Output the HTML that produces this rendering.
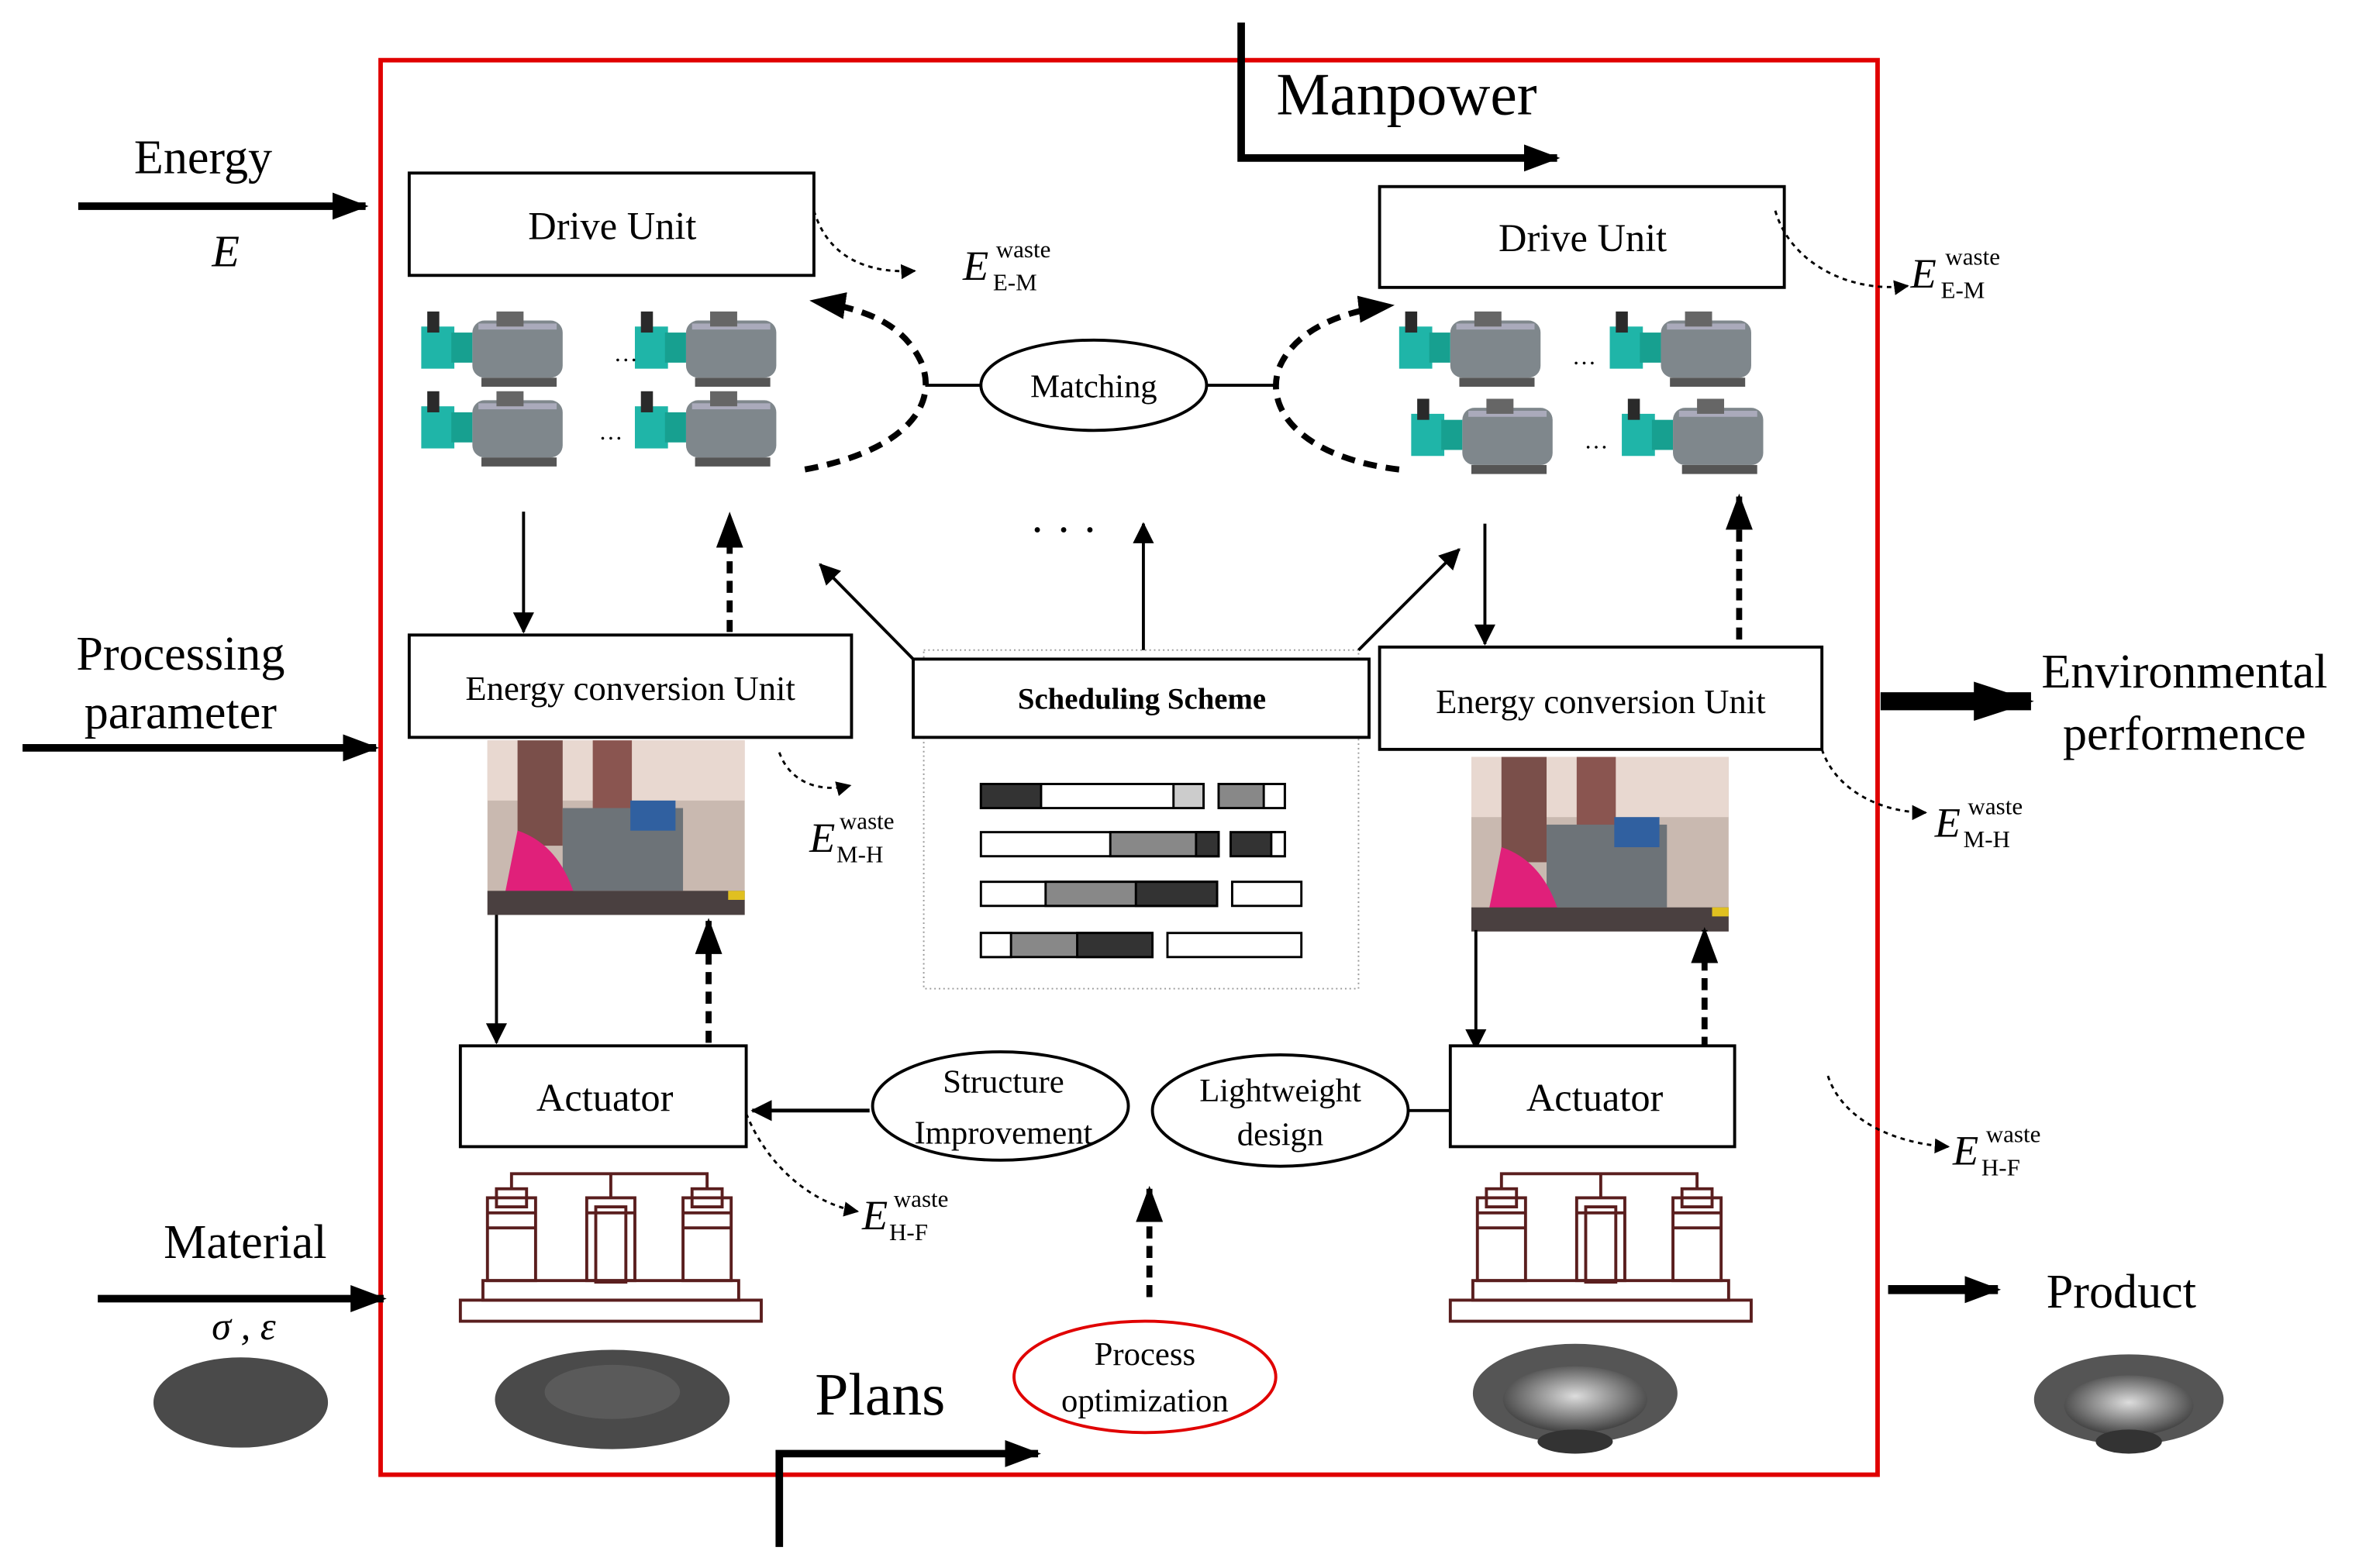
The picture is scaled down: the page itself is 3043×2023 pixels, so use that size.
<!DOCTYPE html>
<html><head><meta charset="utf-8">
<style>
html,body{margin:0;padding:0;background:#fff;}
svg{display:block;}
text{font-family:"Liberation Serif",serif;fill:#000;}
</style></head>
<body>
<svg width="3043" height="2023" viewBox="0 0 1568 1042" preserveAspectRatio="none" xmlns="http://www.w3.org/2000/svg">
<defs>
<marker id="ah" markerWidth="10" markerHeight="10" refX="9" refY="5" orient="auto" markerUnits="userSpaceOnUse"><path d="M0,0 L10,5 L0,10 z" fill="#000"/></marker>
<marker id="ahs" markerWidth="14" markerHeight="14" refX="13" refY="7" orient="auto" markerUnits="userSpaceOnUse"><path d="M0,0 L14,7 L0,14 z" fill="#000"/></marker>
<marker id="ahb" markerWidth="40" markerHeight="26" refX="38" refY="13" orient="auto" markerUnits="userSpaceOnUse"><path d="M0,0 L40,13 L0,26 z" fill="#000"/></marker>
<marker id="ahm" markerWidth="24" markerHeight="18" refX="22" refY="9" orient="auto" markerUnits="userSpaceOnUse"><path d="M0,0 L24,9 L0,18 z" fill="#000"/></marker>
<radialGradient id="bowl" cx="0.5" cy="0.45" r="0.6"><stop offset="0" stop-color="#ddd"/><stop offset="0.5" stop-color="#888"/><stop offset="1" stop-color="#333"/></radialGradient>
<g id="motor">
<rect x="0" y="10" width="22" height="28" fill="#1fb5a8"/>
<rect x="4" y="0" width="8" height="14" fill="#2a2a2a"/>
<rect x="20" y="14" width="14" height="20" fill="#17a090"/>
<rect x="34" y="6" width="60" height="38" rx="8" fill="#7f878c"/>
<rect x="38" y="8" width="52" height="4" fill="#aab"/>
<rect x="50" y="0" width="18" height="10" fill="#666"/>
<rect x="40" y="44" width="50" height="6" fill="#555"/>
</g>
<g id="hyd">
<rect x="0" y="0" width="171" height="116" fill="#c9b9b0"/>
<rect x="0" y="0" width="171" height="40" fill="#e8d8d0"/>
<rect x="20" y="0" width="30" height="70" fill="#7a4f4a"/>
<rect x="70" y="0" width="26" height="50" fill="#8a5550"/>
<rect x="50" y="45" width="80" height="55" fill="#6d7378"/>
<rect x="95" y="40" width="30" height="20" fill="#3060a0"/>
<path d="M20,60 Q50,70 60,110 L10,110 Z" fill="#e0207a"/>
<rect x="0" y="100" width="171" height="16" fill="#4a4040"/>
<rect x="160" y="100" width="11" height="6" fill="#e0c020"/>
</g>
<g id="mach" fill="none" stroke="#5a1e1e" stroke-width="2">
<rect x="0" y="88" width="200" height="14" />
<rect x="15" y="75" width="170" height="13"/>
<rect x="18" y="20" width="32" height="55"/><rect x="24" y="14" width="20" height="12"/><line x1="18" y1="30" x2="50" y2="30"/><line x1="18" y1="40" x2="50" y2="40"/>
<rect x="84" y="20" width="32" height="55"/><rect x="90" y="26" width="20" height="50"/><line x1="84" y1="30" x2="116" y2="30"/>
<rect x="148" y="20" width="32" height="55"/><rect x="154" y="14" width="20" height="12"/><line x1="148" y1="30" x2="180" y2="30"/><line x1="148" y1="40" x2="180" y2="40"/>
<polyline points="34,14 34,4 164,4 164,14"/><line x1="100" y1="4" x2="100" y2="20"/>
</g>
</defs>

<rect x="253" y="40" width="995" height="940" fill="none" stroke="#e00000" stroke-width="3"/>

<!-- left inputs -->
<text x="135" y="115" font-size="32" text-anchor="middle">Energy</text>
<line x1="52" y1="137" x2="243" y2="137" stroke="#000" stroke-width="5" marker-end="url(#ahm)"/>
<text x="150" y="177" font-size="30" font-style="italic" text-anchor="middle">E</text>
<text x="120" y="445" font-size="32" text-anchor="middle">Processing</text>
<text x="120" y="484" font-size="32" text-anchor="middle">parameter</text>
<line x1="15" y1="497" x2="250" y2="497" stroke="#000" stroke-width="5" marker-end="url(#ahm)"/>
<text x="163" y="836" font-size="32" text-anchor="middle">Material</text>
<line x1="65" y1="863" x2="255" y2="863" stroke="#000" stroke-width="5" marker-end="url(#ahm)"/>
<text x="162" y="890" font-size="26" font-style="italic" text-anchor="middle">σ , ε</text>
<ellipse cx="160" cy="932" rx="58" ry="30" fill="#4a4a4a"/>

<!-- manpower -->
<polyline points="825,15 825,105 1035,105" fill="none" stroke="#000" stroke-width="5" marker-end="url(#ahm)"/>
<text x="935" y="76" font-size="40" text-anchor="middle">Manpower</text>
<!-- plans -->
<polyline points="518,1028 518,966 690,966" fill="none" stroke="#000" stroke-width="5" marker-end="url(#ahm)"/>
<text x="585" y="940" font-size="40" text-anchor="middle">Plans</text>

<!-- right outputs -->
<line x1="1250" y1="466" x2="1350" y2="466" stroke="#000" stroke-width="12" marker-end="url(#ahb)"/>
<text x="1452" y="457" font-size="32" text-anchor="middle">Environmental</text>
<text x="1452" y="498" font-size="32" text-anchor="middle">performence</text>
<line x1="1255" y1="857" x2="1328" y2="857" stroke="#000" stroke-width="6" marker-end="url(#ahm)"/>
<text x="1410" y="869" font-size="32" text-anchor="middle">Product</text>

<!-- drive units -->
<rect x="272" y="115" width="269" height="68" fill="#fff" stroke="#000" stroke-width="2"/>
<text x="407" y="159" font-size="26" text-anchor="middle">Drive Unit</text>
<rect x="917" y="124" width="269" height="67" fill="#fff" stroke="#000" stroke-width="2"/>
<text x="1052" y="167" font-size="26" text-anchor="middle">Drive Unit</text>

<!-- motors -->
<use href="#motor" x="280" y="207"/><use href="#motor" x="422" y="207"/>
<use href="#motor" x="280" y="260"/><use href="#motor" x="422" y="260"/>
<text x="408" y="240" font-size="16">…</text><text x="398" y="292" font-size="16">…</text>
<use href="#motor" x="930" y="207"/><use href="#motor" x="1070" y="207"/>
<use href="#motor" x="938" y="265"/><use href="#motor" x="1078" y="265"/>
<text x="1045" y="242" font-size="16">…</text><text x="1053" y="298" font-size="16">…</text>

<!-- matching -->
<ellipse cx="727" cy="256" rx="75" ry="30" fill="#fff" stroke="#000" stroke-width="2"/>
<text x="727" y="264" font-size="22" text-anchor="middle">Matching</text>
<line x1="615" y1="256" x2="652" y2="256" stroke="#000" stroke-width="2"/>
<line x1="802" y1="256" x2="848" y2="256" stroke="#000" stroke-width="2"/>
<path d="M535,312 C600,300 625,270 612,240 C600,215 575,205 540,200" fill="none" stroke="#000" stroke-width="4" stroke-dasharray="9,6" marker-end="url(#ahm)"/>
<path d="M930,312 C870,305 840,275 850,245 C860,220 890,207 925,203" fill="none" stroke="#000" stroke-width="4" stroke-dasharray="9,6" marker-end="url(#ahm)"/>

<!-- waste E-M -->
<path d="M541,140 C550,170 575,182 608,180" fill="none" stroke="#000" stroke-width="1.5" stroke-dasharray="3,3" marker-end="url(#ah)"/>
<text x="640" y="186" font-size="28" font-style="italic">E</text><text x="662" y="171" font-size="16">waste</text><text x="660" y="193" font-size="16">E-M</text>
<path d="M1180,140 C1190,175 1230,195 1268,190" fill="none" stroke="#000" stroke-width="1.5" stroke-dasharray="3,3" marker-end="url(#ah)"/>
<text x="1270" y="191" font-size="28" font-style="italic">E</text><text x="1293" y="176" font-size="16">waste</text><text x="1290" y="198" font-size="16">E-M</text>

<!-- vertical arrows upper -->
<line x1="348" y1="340" x2="348" y2="420" stroke="#000" stroke-width="2" marker-end="url(#ahs)"/>
<line x1="485" y1="420" x2="485" y2="342" stroke="#000" stroke-width="4" stroke-dasharray="8,5" marker-end="url(#ahm)"/>
<line x1="987" y1="348" x2="987" y2="428" stroke="#000" stroke-width="2" marker-end="url(#ahs)"/>
<line x1="1156" y1="425" x2="1156" y2="330" stroke="#000" stroke-width="4" stroke-dasharray="8,5" marker-end="url(#ahm)"/>
<text x="707" y="362" font-size="30" text-anchor="middle">· · ·</text>

<!-- scheduling -->
<rect x="614" y="432" width="289" height="225" fill="none" stroke="#999" stroke-width="1" stroke-dasharray="1,2"/>
<line x1="607" y1="438" x2="545" y2="375" stroke="#000" stroke-width="2" marker-end="url(#ahs)"/>
<line x1="760" y1="432" x2="760" y2="348" stroke="#000" stroke-width="2" marker-end="url(#ahs)"/>
<line x1="903" y1="432" x2="970" y2="365" stroke="#000" stroke-width="2" marker-end="url(#ahs)"/>
<rect x="607" y="438" width="303" height="52" fill="#fff" stroke="#000" stroke-width="2"/>
<text x="759" y="471" font-size="20" font-weight="bold" text-anchor="middle">Scheduling Scheme</text>
<g stroke="#000" stroke-width="1.5">
<rect x="652" y="521" width="148" height="16" fill="#fff"/><rect x="652" y="521" width="40" height="16" fill="#333"/><rect x="780" y="521" width="20" height="16" fill="#ccc"/>
<rect x="810" y="521" width="44" height="16" fill="#888"/><rect x="840" y="521" width="14" height="16" fill="#fff"/>
<rect x="652" y="553" width="158" height="16" fill="#fff"/><rect x="738" y="553" width="72" height="16" fill="#888"/><rect x="795" y="553" width="15" height="16" fill="#333"/>
<rect x="818" y="553" width="36" height="16" fill="#333"/><rect x="845" y="553" width="9" height="16" fill="#fff"/>
<rect x="652" y="586" width="157" height="16" fill="#fff"/><rect x="695" y="586" width="114" height="16" fill="#888"/><rect x="755" y="586" width="54" height="16" fill="#333"/>
<rect x="819" y="586" width="46" height="16" fill="#fff"/>
<rect x="652" y="620" width="114" height="16" fill="#888"/><rect x="652" y="620" width="20" height="16" fill="#fff"/><rect x="716" y="620" width="50" height="16" fill="#333"/>
<rect x="776" y="620" width="89" height="16" fill="#fff"/>
</g>

<!-- energy conversion -->
<rect x="272" y="422" width="294" height="68" fill="#fff" stroke="#000" stroke-width="2"/>
<text x="419" y="465" font-size="23" text-anchor="middle">Energy conversion Unit</text>
<rect x="917" y="430" width="294" height="68" fill="#fff" stroke="#000" stroke-width="2"/>
<text x="1064" y="474" font-size="23" text-anchor="middle">Energy conversion Unit</text>
<use href="#hyd" x="324" y="492"/>
<use href="#hyd" x="978" y="503"/>

<!-- waste M-H -->
<path d="M518,500 C525,520 545,527 565,522" fill="none" stroke="#000" stroke-width="1.5" stroke-dasharray="3,3" marker-end="url(#ah)"/>
<text x="538" y="566" font-size="28" font-style="italic">E</text><text x="558" y="551" font-size="16">waste</text><text x="556" y="573" font-size="16">M-H</text>
<path d="M1211,498 C1220,525 1250,540 1280,540" fill="none" stroke="#000" stroke-width="1.5" stroke-dasharray="3,3" marker-end="url(#ah)"/>
<text x="1286" y="556" font-size="28" font-style="italic">E</text><text x="1308" y="541" font-size="16">waste</text><text x="1305" y="563" font-size="16">M-H</text>

<!-- lower vertical arrows -->
<line x1="330" y1="608" x2="330" y2="693" stroke="#000" stroke-width="2" marker-end="url(#ahs)"/>
<line x1="471" y1="693" x2="471" y2="612" stroke="#000" stroke-width="4" stroke-dasharray="8,5" marker-end="url(#ahm)"/>
<line x1="981" y1="618" x2="981" y2="697" stroke="#000" stroke-width="2" marker-end="url(#ahs)"/>
<line x1="1133" y1="697" x2="1133" y2="618" stroke="#000" stroke-width="4" stroke-dasharray="8,5" marker-end="url(#ahm)"/>

<!-- actuators -->
<rect x="306" y="695" width="190" height="67" fill="#fff" stroke="#000" stroke-width="2"/>
<text x="402" y="738" font-size="26" text-anchor="middle">Actuator</text>
<rect x="964" y="695" width="189" height="67" fill="#fff" stroke="#000" stroke-width="2"/>
<text x="1060" y="738" font-size="26" text-anchor="middle">Actuator</text>

<ellipse cx="665" cy="735" rx="85" ry="36" fill="#fff" stroke="#000" stroke-width="2"/>
<text x="667" y="726" font-size="22" text-anchor="middle">Structure</text>
<text x="667" y="760" font-size="22" text-anchor="middle">Improvement</text>
<line x1="578" y1="738" x2="500" y2="738" stroke="#000" stroke-width="2.5" marker-end="url(#ahs)"/>
<ellipse cx="851" cy="738" rx="85" ry="37" fill="#fff" stroke="#000" stroke-width="2"/>
<text x="851" y="732" font-size="22" text-anchor="middle">Lightweight</text>
<text x="851" y="761" font-size="22" text-anchor="middle">design</text>
<line x1="936" y1="738" x2="964" y2="738" stroke="#000" stroke-width="2"/>

<line x1="764" y1="862" x2="764" y2="790" stroke="#000" stroke-width="4" stroke-dasharray="8,5" marker-end="url(#ahm)"/>
<ellipse cx="761" cy="915" rx="87" ry="37" fill="#fff" stroke="#e00000" stroke-width="2"/>
<text x="761" y="907" font-size="22" text-anchor="middle">Process</text>
<text x="761" y="938" font-size="22" text-anchor="middle">optimization</text>

<!-- waste H-F -->
<path d="M496,740 C510,775 540,800 570,805" fill="none" stroke="#000" stroke-width="1.5" stroke-dasharray="3,3" marker-end="url(#ah)"/>
<text x="573" y="817" font-size="28" font-style="italic">E</text><text x="594" y="802" font-size="16">waste</text><text x="591" y="824" font-size="16">H-F</text>
<path d="M1215,715 C1225,745 1260,760 1295,762" fill="none" stroke="#000" stroke-width="1.5" stroke-dasharray="3,3" marker-end="url(#ah)"/>
<text x="1298" y="774" font-size="28" font-style="italic">E</text><text x="1320" y="759" font-size="16">waste</text><text x="1317" y="781" font-size="16">H-F</text>

<!-- machines -->
<use href="#mach" x="306" y="776"/>
<use href="#mach" x="964" y="776"/>

<!-- discs / products -->
<ellipse cx="407" cy="930" rx="78" ry="33" fill="#4a4a4a"/>
<ellipse cx="407" cy="925" rx="45" ry="18" fill="#5a5a5a"/>
<ellipse cx="1047" cy="926" rx="68" ry="33" fill="#555"/>
<ellipse cx="1047" cy="930" rx="48" ry="22" fill="url(#bowl)"/>
<ellipse cx="1047" cy="958" rx="25" ry="8" fill="#333"/>
<ellipse cx="1415" cy="930" rx="63" ry="30" fill="#555"/>
<ellipse cx="1415" cy="934" rx="43" ry="20" fill="url(#bowl)"/>
<ellipse cx="1415" cy="958" rx="22" ry="8" fill="#333"/>
</svg>
</body></html>
